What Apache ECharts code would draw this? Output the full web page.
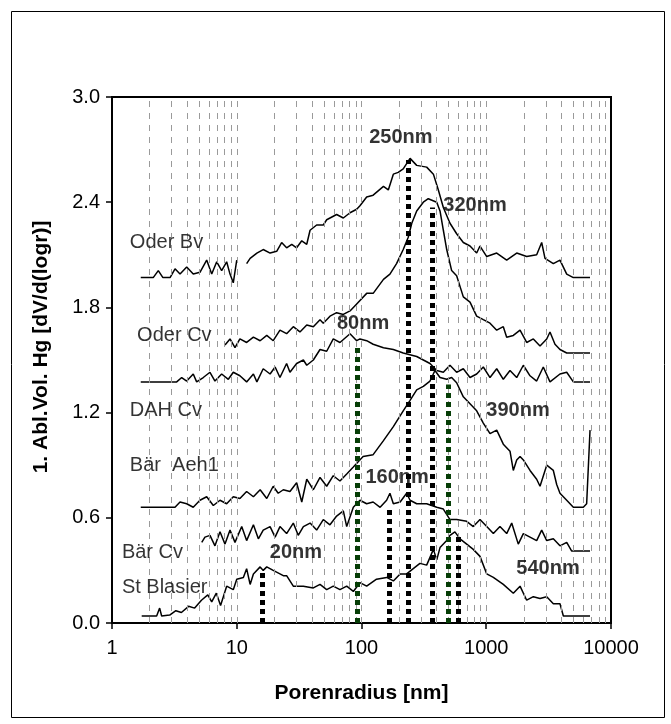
<!DOCTYPE html>
<html><head><meta charset="utf-8">
<script src="https://cdn.jsdelivr.net/npm/echarts@6/dist/echarts.min.js"></script>
<style>html,body{margin:0;padding:0;background:#fff}#c{width:671px;height:724px}</style>
</head><body><div id="c"></div>
<script>
// ---- data: [poreRadius nm, value] ----
const oderBv = [[1.70,1.97],[2.14,1.97],[2.35,2.01],[2.56,1.97],[2.92,1.97],[3.20,2.02],[3.51,1.99],[3.97,2.03],[4.48,1.99],[5.07,2.00],[5.74,2.07],[6.30,1.99],[6.91,2.06],[7.57,2.01],[8.30,2.06],[8.83,1.99],[9.38,1.94],[10.0,2.07],null,
[12.0,2.05],[12.8,2.08],[14.5,2.11],[16.3,2.13],[18.5,2.11],[20.9,2.12],[22.9,2.17],[25.1,2.14],[27.6,2.16],[30.2,2.14],[33.2,2.18],[36.4,2.16],[38.7,2.24],[43.7,2.27],[49.4,2.27],[52.6,2.30],[55.9,2.31],[63.2,2.33],[71.5,2.31],[80.9,2.34],[91.5,2.36],[97.2,2.38],[110,2.43],[124,2.44],[150,2.49],[164,2.47],[180,2.56],[197,2.57],[216,2.59],[245,2.65],[277,2.61],[333,2.60],[377,2.56],[413,2.47],[453,2.37],[512,2.28],[579,2.22],[655,2.17],[741,2.15],[838,2.11],[891,2.15],[1009,2.09],[1213,2.11],[1458,2.07],[1754,2.11],[2109,2.09],[2536,2.10],[2782,2.17],[2958,2.08],[3449,2.05],[3900,2.07],[4415,1.99],[4990,1.97],[6790,1.97]];
const oderCv = [[8.05,1.585],[8.83,1.62],[9.68,1.57],[10.6,1.62],[12.0,1.60],[13.6,1.63],[15.4,1.61],[17.4,1.64],[19.6,1.61],[22.2,1.67],[25.1,1.65],[28.4,1.69],[32.1,1.66],[36.4,1.70],[41.1,1.69],[46.5,1.73],[49.4,1.71],[55.9,1.75],[63.2,1.77],[71.5,1.76],[80.9,1.78],[91.5,1.82],[110,1.88],[124,1.88],[150,1.96],[169,1.99],[191,2.05],[216,2.13],[237,2.20],[253,2.28],[277,2.35],[313,2.40],[343,2.42],[401,2.40],[426,2.35],[453,2.24],[482,2.13],[528,2.01],[579,1.98],[655,1.86],[741,1.83],[838,1.75],[947,1.73],[1072,1.71],[1213,1.67],[1370,1.69],[1458,1.63],[1648,1.64],[1866,1.67],[2109,1.60],[2385,1.62],[2698,1.58],[3053,1.62],[3243,1.66],[3556,1.59],[3900,1.56],[4415,1.54],[6790,1.54]];
const dahCv = [[1.70,1.375],[3.30,1.375],[3.62,1.40],[3.97,1.38],[4.48,1.42],[4.77,1.375],[5.39,1.40],[6.10,1.43],[6.69,1.38],[7.57,1.42],[8.56,1.39],[9.38,1.43],[10.6,1.41],[12.0,1.375],[13.6,1.42],[14.5,1.375],[16.3,1.45],[18.5,1.42],[20.3,1.46],[22.2,1.40],[25.1,1.48],[26.7,1.43],[30.2,1.48],[34.2,1.50],[36.4,1.47],[41.1,1.50],[46.5,1.56],[52.6,1.55],[59.4,1.62],[67.2,1.60],[80.9,1.65],[91.5,1.61],[97.2,1.62],[110,1.61],[124,1.59],[150,1.57],[180,1.56],[216,1.54],[277,1.52],[354,1.48],[401,1.44],[453,1.43],[512,1.47],[579,1.43],[655,1.45],[741,1.40],[838,1.42],[947,1.46],[1072,1.40],[1213,1.45],[1370,1.39],[1550,1.44],[1754,1.40],[1983,1.47],[2243,1.41],[2536,1.38],[2866,1.46],[3243,1.375],[3900,1.42],[4415,1.43],[4990,1.375],[6790,1.375]];
const baerAeh1 = [[1.70,0.66],[3.20,0.66],[3.51,0.69],[3.97,0.68],[4.48,0.66],[5.07,0.70],[5.74,0.72],[6.49,0.67],[7.34,0.70],[8.30,0.68],[9.38,0.72],[10.6,0.71],[12.0,0.75],[13.6,0.72],[15.4,0.76],[17.4,0.71],[19.6,0.78],[21.5,0.74],[23.6,0.76],[26.7,0.75],[30.2,0.80],[33.2,0.69],[36.4,0.82],[41.1,0.76],[46.5,0.83],[52.6,0.78],[59.4,0.84],[67.2,0.81],[76.1,0.85],[86.0,0.89],[103,0.95],[124,0.96],[150,1.04],[180,1.12],[216,1.21],[245,1.27],[277,1.33],[313,1.35],[354,1.38],[388,1.44],[426,1.40],[482,1.39],[528,1.40],[579,1.37],[655,1.29],[741,1.25],[838,1.21],[947,1.14],[1072,1.08],[1213,1.10],[1370,1.02],[1550,0.98],[1648,0.87],[1754,0.93],[1866,0.95],[1983,0.93],[2243,0.87],[2536,0.82],[2698,0.78],[3053,0.90],[3449,0.87],[3670,0.79],[3900,0.74],[4415,0.70],[4990,0.66],[5998,0.66],[6380,0.68],[6790,1.10]];
const baerCv = [[5.24,0.46],[5.56,0.49],[6.10,0.50],[6.69,0.44],[7.34,0.52],[8.05,0.45],[8.83,0.53],[9.68,0.46],[10.96,0.55],[12.0,0.47],[13.6,0.56],[14.9,0.48],[16.3,0.53],[18.5,0.55],[20.3,0.49],[22.2,0.55],[25.1,0.51],[28.4,0.57],[31.1,0.50],[34.2,0.55],[38.7,0.57],[43.7,0.53],[49.4,0.59],[55.9,0.56],[63.2,0.61],[71.5,0.64],[76.1,0.55],[86.0,0.66],[97.2,0.70],[110,0.68],[124,0.69],[141,0.66],[159,0.70],[169,0.74],[180,0.68],[204,0.69],[230,0.74],[245,0.70],[277,0.68],[333,0.68],[401,0.66],[453,0.65],[512,0.59],[579,0.59],[697,0.58],[787,0.55],[891,0.59],[1009,0.55],[1140,0.51],[1288,0.55],[1458,0.51],[1600,0.57],[1806,0.45],[1983,0.51],[2243,0.49],[2536,0.47],[2782,0.53],[3053,0.47],[3449,0.48],[3900,0.44],[4415,0.46],[4842,0.41],[6790,0.41]];
const stBlasier = [[1.73,0.04],[2.28,0.04],[2.41,0.085],[2.50,0.04],[2.90,0.045],[3.25,0.07],[3.60,0.06],[4.11,0.095],[4.60,0.085],[5.21,0.13],[5.86,0.16],[6.30,0.12],[6.86,0.17],[7.42,0.10],[8.30,0.21],[9.38,0.19],[10.0,0.25],[11.3,0.26],[12.0,0.31],[12.8,0.22],[13.6,0.28],[15.4,0.32],[16.3,0.30],[17.4,0.32],[19.6,0.30],[22.2,0.28],[23.6,0.27],[25.1,0.27],[28.4,0.21],[34.2,0.21],[41.1,0.20],[46.5,0.22],[52.6,0.19],[59.4,0.21],[67.2,0.19],[76.1,0.21],[86.0,0.18],[97.2,0.23],[110,0.21],[132,0.25],[159,0.26],[180,0.24],[204,0.28],[230,0.28],[260,0.31],[294,0.34],[333,0.33],[377,0.42],[401,0.36],[426,0.43],[482,0.47],[512,0.50],[561,0.52],[616,0.48],[697,0.45],[787,0.42],[891,0.38],[1009,0.28],[1140,0.26],[1370,0.22],[1648,0.17],[1866,0.21],[2109,0.13],[2385,0.15],[2698,0.14],[3053,0.15],[3449,0.11],[3900,0.11],[4150,0.04],[6790,0.04]];

const seriesNames = ['Oder Bv','Oder Cv','DAH Cv','Bär  Aeh1','Bär Cv','St Blasier'];
const seriesLabelPos = [[1.39,2.17],[1.59,1.64],[1.39,1.21],[1.39,0.90],[1.20,0.40],[1.20,0.205]];

// peak markers
const peakText = ['20nm','80nm','160nm','250nm','320nm','390nm','540nm'];
const peakR    = [16.0, 92.5, 166, 237, 372, 497, 597];
const peakTop  = [0.30, 1.58, 0.66, 2.64, 2.37, 1.36, 0.51];
const peakLabelPos = [[29.8,0.40],[103,1.71],[193,0.83],[207,2.77],[813,2.38],[1798,1.21],[3126,0.31]];
const peakColor = ['#000','#063d06','#000','#000','#000','#063d06','#000'];

const xTicks = [1,10,100,1000,10000];
const minorGrid = [2,3,4,5,6,7,8,9,10,20,30,40,50,60,70,80,90,100,200,300,400,500,600,700,800,900,1000,2000,3000,4000,5000,6000,7000,8000,9000];

const FONT = 'Liberation Sans, Arial, sans-serif';
const chart = echarts.init(document.getElementById('c'));
const curves = [oderBv, oderCv, dahCv, baerAeh1, baerCv, stBlasier];

const series = [];
series.push({
  type:'line', data:[], z:1, silent:true,
  markLine:{silent:true, symbol:'none', label:{show:false}, animation:false,
    lineStyle:{color:'#9a9a9a', width:1, type:[6,6]},
    data: minorGrid.map(v=>({xAxis:v}))}
});
series.push({
  type:'line', data:[], z:4, silent:true,
  markLine:{silent:true, symbol:'none', label:{show:false}, animation:false,
    data: peakR.map((r,i)=>[{coord:[r,0], lineStyle:{color:peakColor[i], width:5, type:[5,4]}},{coord:[r,peakTop[i]]}])}
});
curves.forEach((d,i)=>{
  series.push({type:'line', data:d, showSymbol:false, symbol:'none', connectNulls:false, z:3,
    lineStyle:{color:'#000', width:1.5}, animation:false});
});
series.push({
  type:'scatter', symbolSize:0, z:5, silent:true, animation:false,
  data: seriesNames.map((n,i)=>({name:n, value:seriesLabelPos[i]})),
  label:{show:true, position:'right', distance:0, formatter:p=>p.name, color:'#000', fontSize:20, fontFamily:FONT}
});
series.push({
  type:'scatter', symbolSize:0, z:5, silent:true, animation:false,
  data: peakText.map((n,i)=>({name:n, value:peakLabelPos[i]})),
  label:{show:true, position:'inside', formatter:p=>p.name, color:'#000', fontSize:20, fontWeight:'bold', fontFamily:FONT}
});

chart.setOption({
  animation:false,
  backgroundColor:'#fff',
  grid:{left:112, top:97, right:60, bottom:101, show:true, borderColor:'#000', borderWidth:2, backgroundColor:'transparent'},
  xAxis:{type:'log', logBase:10, min:1, max:10000,
    axisLine:{show:true, onZero:false, lineStyle:{color:'#000', width:2}},
    axisTick:{show:true, inside:false, length:6, lineStyle:{color:'#000', width:1.5}},
    minorTick:{show:false}, splitLine:{show:false},
    axisLabel:{color:'#000', fontSize:20, fontFamily:FONT, margin:15, formatter:v=>String(v)},
    name:'Porenradius [nm]', nameLocation:'middle', nameGap:60,
    nameTextStyle:{color:'#000', fontSize:21, fontWeight:'bold', fontFamily:FONT}},
  yAxis:{type:'value', min:0, max:3, interval:0.6,
    axisLine:{show:true, lineStyle:{color:'#000', width:2}},
    axisTick:{show:true, inside:false, length:6, lineStyle:{color:'#000', width:1.5}},
    splitLine:{show:false},
    axisLabel:{color:'#000', fontSize:20, fontFamily:FONT, margin:12, formatter:v=>v.toFixed(1)},
    name:'1. Abl.Vol. Hg [dV/d(logr)]', nameLocation:'middle', nameGap:60,
    nameTextStyle:{color:'#000', fontSize:21, fontWeight:'bold', fontFamily:FONT, padding:[0,0,0,26]}},
  graphic:[{type:'rect', left:9, top:9, silent:true, shape:{width:653, height:706},
    style:{fill:'none', stroke:'#000', lineWidth:1}}],
  series: series
});
</script></body></html>
